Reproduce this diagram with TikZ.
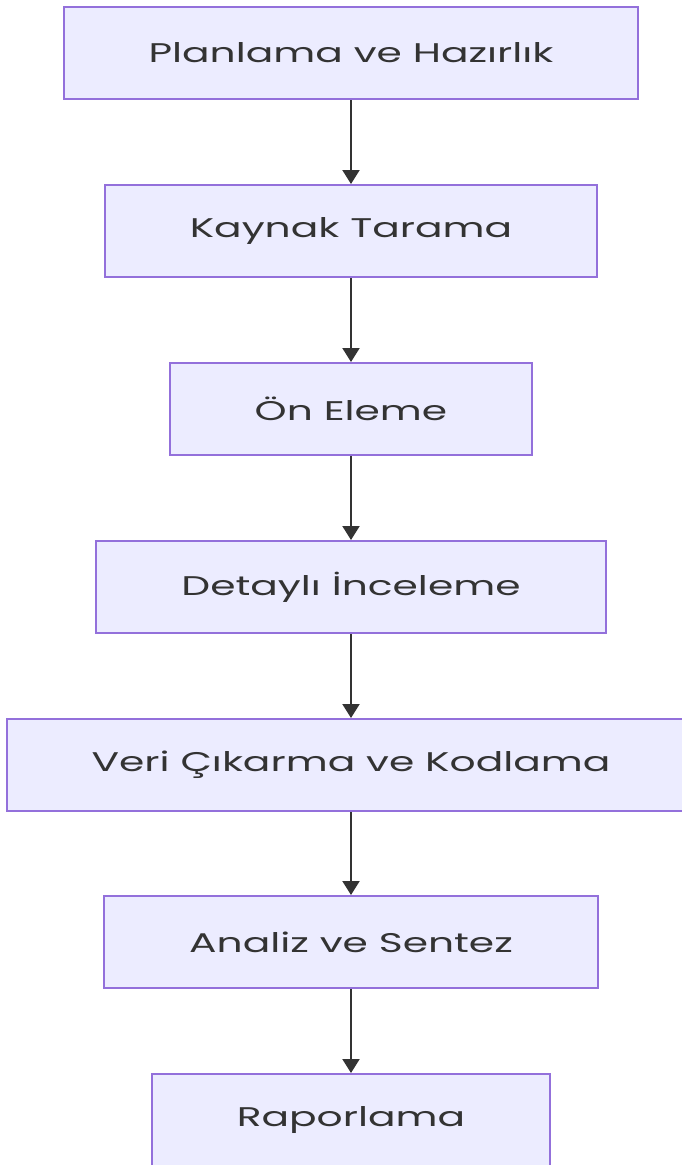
\documentclass[tikz,border=0pt]{standalone}
\usepackage{fontspec}
\setmainfont{Poppins}[FakeStretch=1.51]
\usetikzlibrary{arrows.meta}
\definecolor{kutu}{HTML}{ECECFF}
\definecolor{cerceve}{HTML}{9370DB}
\definecolor{yazi}{HTML}{333333}

\begin{document}
\begin{tikzpicture}[x=1pt,y=1pt,
        adim/.style={draw=cerceve,fill=kutu,line width=2pt,minimum height=92pt,inner xsep=85pt,text=yazi,font=\fontsize{27}{32}\selectfont},
        ok/.style={draw=yazi,line width=2pt,-{Triangle[length=14pt,width=17pt]}}]
        \useasboundingbox (0,0) rectangle (681,-1165);
        \fill [white] (0,0) rectangle (681,-1165);

        \node [adim] (plan) at(351,-53) {Planlama ve Hazırlık};
        \node [adim] (kaynak) at(351,-231) {Kaynak Tarama};
        \node [adim] (onel) at(351,-409) {Ön Eleme};
        \node [adim] (detay) at(351,-587) {Detaylı İnceleme};
        \node [adim] (veri) at(351,-765) {Veri Çıkarma ve Kodlama};
        \node [adim] (analiz) at(351,-942) {Analiz ve Sentez};
        \node [adim] (rapor) at(351,-1120) {Raporlama};

        \draw [ok] (plan)--(kaynak);
        \draw [ok] (kaynak)--(onel);
        \draw [ok] (onel)--(detay);
        \draw [ok] (detay)--(veri);
        \draw [ok] (veri)--(analiz);
        \draw [ok] (analiz)--(rapor);
    \end{tikzpicture}
\end{document}
